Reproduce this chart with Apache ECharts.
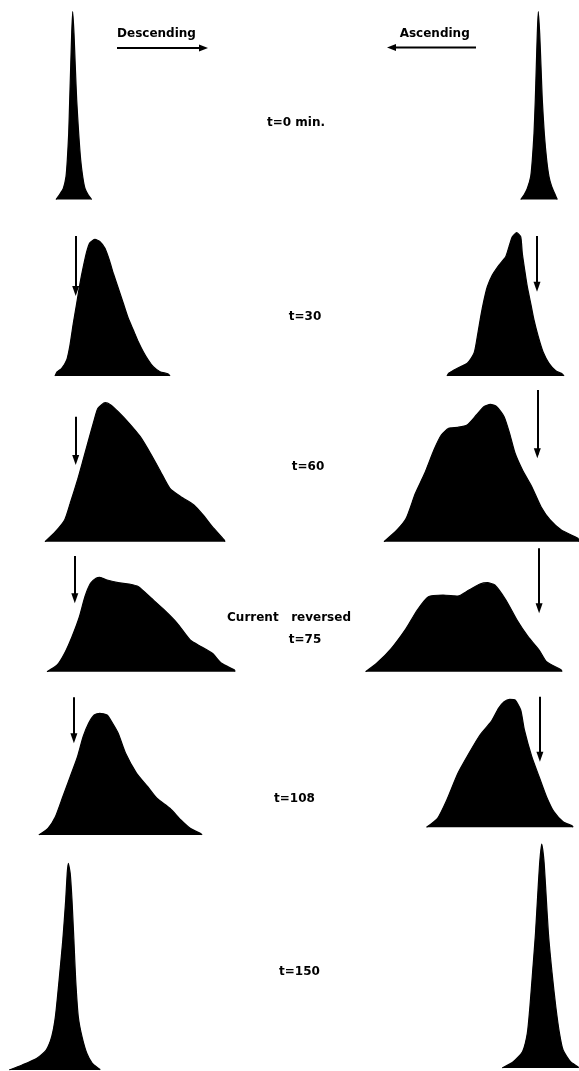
<!DOCTYPE html>
<html>
<head>
<meta charset="utf-8">
<script src="https://cdn.jsdelivr.net/npm/echarts@6/dist/echarts.min.js"></script>
<style>
html,body{margin:0;padding:0;background:#fff;}
#chart{width:579px;height:1071px;}
</style>
</head>
<body>
<div id="chart"></div>
<script>
// ---- DATA: boundary profiles, [position, concentration] (relative units) ----
const descT0 = [[0,0],[3.3,4.5],[7.3,11],[10,23],[11.3,39.5],[12.7,66],[13.7,99.5],[14.7,133],[15.7,166],[16.7,188],[18,166],[19.3,133],[20.7,99.5],[22.7,66],[24.7,39.5],[26.7,23],[29,11],[32.3,4.5],[35.7,0]];
const ascT0 = [[0.2,0],[3.5,4.5],[6.8,11],[10.2,23],[11.8,39.5],[13.5,66],[14.8,99.5],[15.8,133],[16.8,166],[17.8,188],[19.2,166],[20.5,133],[21.8,99.5],[23.8,66],[26.2,39.5],[28.5,23],[31.2,13],[34.2,6],[36.8,0]];
const descT30 = [[0,0],[2,4],[6.7,7.7],[11.7,16],[15,31],[18.3,52.7],[21.7,72.7],[25,92.7],[28.3,109.3],[31.7,124.3],[35,133.3],[40,136.7],[45,134.3],[50,127.7],[54.3,116],[58.3,102.7],[63.3,87.7],[68.3,72.7],[73.3,57.7],[78.3,46],[83.3,34.3],[88.3,24.3],[93.3,16],[98.3,9.3],[105,4.3],[113.3,2],[115,0]];
const ascT30 = [[0,0],[2,3],[10.3,7.7],[20.3,12.7],[27,22.7],[30.3,39.3],[33.7,59.3],[37,76],[40.3,89.3],[45.3,101],[52,111],[58.7,119.3],[62,129.3],[65.3,139.3],[69.7,143.3],[73.7,139.3],[75.3,122.7],[77.7,106],[80.3,89.3],[83.7,72.7],[87,56],[91.3,39.3],[96,24.3],[102,12.7],[108.7,5.3],[115.3,2],[117,0]];
const descT60 = [[0,0],[10.4,10],[19.6,21.7],[25.2,38.4],[32.5,61.7],[38.1,81.7],[43.6,101.7],[49.2,121.7],[52.9,133.4],[60.2,139],[65.8,136.7],[73.2,130],[84.2,118.4],[95.3,105],[106.4,86.7],[115.6,70],[124.9,53.4],[135.9,45],[148.9,36.7],[158.1,26.7],[167.3,15],[179.2,1.7],[180,0]];
const ascT60 = [[0,0],[13,11.7],[22.2,23.4],[31.4,48.4],[40.7,68.4],[49.9,91.7],[57.3,106.7],[64.7,113.4],[73.9,114.4],[83.1,116.7],[92.4,126.7],[99.8,135],[106.4,137.4],[112.7,135],[120.1,125],[125.6,108.4],[131.1,88.4],[138.5,71.7],[147.8,55],[157,35],[166.2,21.7],[177.3,11.7],[193.9,3.4],[195,0]];
const descT75 = [[0,0],[10.2,6.7],[17.6,18.4],[25,35],[32.4,55],[37.9,75],[43.5,88.4],[49,93.4],[52.7,94.4],[60.1,91.7],[71.2,89],[82.2,87.7],[91.5,85],[104.4,73.4],[117.3,61.7],[130.3,48.4],[143.2,31.7],[154.3,25],[165.3,18.4],[174.6,8.4],[187.5,1.7],[188,0]];
const ascT75 = [[0,0],[11.1,8.4],[25.8,23.4],[40.6,43.4],[51.7,61.7],[62.8,75],[77.5,76.7],[92.3,75.7],[103.4,81.7],[114.4,87.7],[121.8,89],[129.2,86.7],[140.3,71.7],[151.4,51.7],[162.5,35],[173.5,21.7],[180.9,10],[195.7,1.7],[196.4,0]];
const descT108 = [[0,0],[9.2,6.7],[16.6,18.3],[24,38.3],[31.4,58.3],[38.7,78.3],[44.3,98.3],[49.8,111.7],[55.4,120],[60.9,121.7],[68.3,120],[73.8,111.7],[79.4,101.7],[86.8,81.7],[97.8,61.7],[108.9,48.3],[118.1,36.7],[131.1,26.7],[142.1,15],[151.4,6.7],[162.5,1],[163.2,0]];
const ascT108 = [[0,0],[11.1,9],[20.3,27.3],[31.4,54],[42.5,74],[53.5,92.3],[64.6,105.6],[72,119],[77.6,125.6],[83.1,128],[88.6,127.3],[94.2,117.3],[97.9,97.3],[105.3,70.6],[112.6,50.6],[120,30.6],[127.4,15.6],[136.6,5.6],[145.9,1.3],[146.5,0]];
const descT150 = [[0,0],[13,5],[27.7,11.7],[37,20],[42.5,33.3],[46.2,53.3],[49.9,90],[53.6,130],[56.5,170],[58,196.7],[59.1,206.7],[61,196.7],[62.8,170],[64.7,130],[66.5,90],[69.1,53.3],[72.8,33.3],[77.6,16.7],[83.1,6.7],[90.5,0.7],[90.8,0]];
const ascT150 = [[0,0],[11.1,6.3],[20.3,16.3],[25.1,34.7],[27.7,61.3],[30.3,94.7],[33.3,134.7],[35.8,178],[37.7,208],[39.5,224],[41.7,208],[43.6,178],[46.2,134.7],[49.9,94.7],[53.6,61.3],[57.3,34.7],[60.9,18],[68.3,6.3],[75.7,1.3],[76.3,0]];

// starting-boundary markers: [position, top, bottom] in the same units
const descArrows = [null, [20.7,140,80], [30.7,125,76.7], [27.8,115.7,68.4], [35.1,137.7,91.7], null];
const ascArrows  = [null, [90,140,84.3], [153.3,151.7,83.4], [173.5,123.4,58.4], [113.4,130.6,65.6], null];

const rowLabels = ['t=0 min.', 't=30', 't=60', 't=75', 't=108', 't=150'];
const extraLabel = 'Current   reversed';
const directionLabels = ['Descending', 'Ascending'];

const descProfiles = [descT0, descT30, descT60, descT75, descT108, descT150];
const ascProfiles  = [ascT0, ascT30, ascT60, ascT75, ascT108, ascT150];

// ---- LAYOUT (pixels) ----
const descLayout = [{left:56,base:199.5},{left:55,base:376},{left:45,base:541.7},{left:47,base:671.7},{left:38.8,base:835},{left:9.2,base:1070}];
const ascLayout  = [{left:520.5,base:199.5},{left:447,base:376},{left:384,base:541.7},{left:365.6,base:671.7},{left:426.5,base:827.3},{left:502.2,base:1068}];
const labelPos = [[296,123],[305,317],[308,467],[305,640],[294.5,799],[299.5,972]];

const grids = [], xAxes = [], yAxes = [], series = [];
function addPeak(data, arrow, lay) {
  const i = grids.length;
  const xmax = data[data.length - 1][0];
  let ymax = Math.max.apply(null, data.map(d => d[1]));
  if (arrow) ymax = Math.max(ymax, arrow[1]);
  ymax += 1;
  grids.push({left: lay.left, top: lay.base - ymax, width: xmax, height: ymax, show: false});
  xAxes.push({type: 'value', gridIndex: i, min: 0, max: xmax, show: false, splitLine: {show: false}});
  yAxes.push({type: 'value', gridIndex: i, min: 0, max: ymax, show: false, splitLine: {show: false}});
  const s = {
    type: 'line', xAxisIndex: i, yAxisIndex: i, data: data,
    smooth: 0.2, symbol: 'none', silent: true,
    lineStyle: {color: '#000', width: 1.2},
    areaStyle: {color: '#000', opacity: 1}
  };
  if (arrow) {
    s.markLine = {
      silent: true, animation: false,
      symbol: 'none',
      label: {show: false},
      lineStyle: {color: '#000', width: 2, type: 'solid', opacity: 1},
      data: [[{coord: [arrow[0], arrow[1]]}, {coord: [arrow[0], arrow[2] + 4]}]]
    };
  }
  series.push(s);
  if (arrow) {
    series.push({
      type: 'scatter', xAxisIndex: i, yAxisIndex: i, silent: true, z: 5,
      data: [[arrow[0], arrow[2] + 5]],
      symbol: 'triangle', symbolSize: [7, 10], symbolRotate: 180,
      itemStyle: {color: '#000', opacity: 1}
    });
  }
}
for (let r = 0; r < 6; r++) {
  addPeak(descProfiles[r], descArrows[r], descLayout[r]);
  addPeak(ascProfiles[r], ascArrows[r], ascLayout[r]);
}

const FONT = '"DejaVu Sans", Arial, sans-serif';
function txt(t, x, y) {
  return {type: 'text', silent: true, style: {text: t, x: x, y: y, fill: '#000', fontSize: 12, fontWeight: 'bold', fontFamily: FONT, align: 'center', verticalAlign: 'middle'}};
}
const graphics = [];
rowLabels.forEach((t, i) => graphics.push(txt(t, labelPos[i][0], labelPos[i][1])));
graphics.push(txt(extraLabel, 289, 618));
graphics.push(txt(directionLabels[0], 156.5, 34));
graphics.push(txt(directionLabels[1], 434.7, 34));
// direction arrows
graphics.push({type: 'line', silent: true, shape: {x1: 117, y1: 48, x2: 202, y2: 48}, style: {stroke: '#000', lineWidth: 2}});
graphics.push({type: 'polygon', silent: true, shape: {points: [[199, 44.5], [208, 48], [199, 51.5]]}, style: {fill: '#000'}});
graphics.push({type: 'line', silent: true, shape: {x1: 393, y1: 47.5, x2: 476, y2: 47.5}, style: {stroke: '#000', lineWidth: 2}});
graphics.push({type: 'polygon', silent: true, shape: {points: [[396, 44], [387, 47.5], [396, 51]]}, style: {fill: '#000'}});

const chart = echarts.init(document.getElementById('chart'), null, {renderer: 'canvas'});
chart.setOption({
  backgroundColor: '#fff',
  animation: false,
  grid: grids,
  xAxis: xAxes,
  yAxis: yAxes,
  series: series,
  graphic: graphics
});
</script>
</body>
</html>
